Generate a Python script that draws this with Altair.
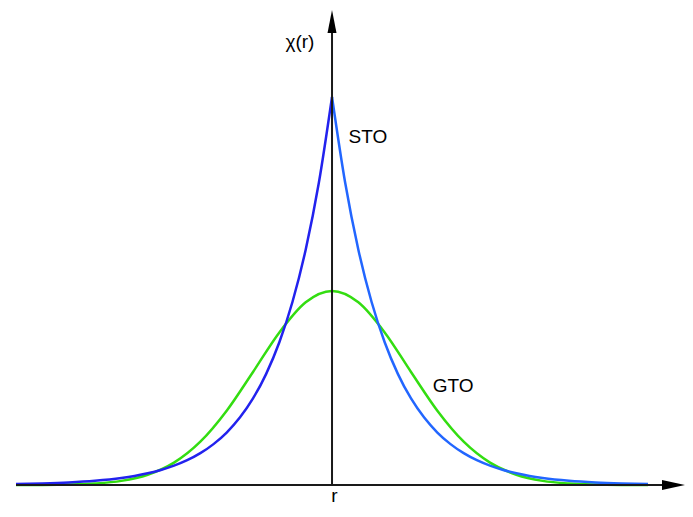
import altair as alt
import pandas as pd

# ---- data ----
sto_left_r = [-6.0, -5.5, -5.0, -4.5, -4.0, -3.75, -3.5, -3.25, -3.0, -2.75, -2.5, -2.25,
              -2.0, -1.75, -1.5, -1.25, -1.0, -0.75, -0.5, -0.25, 0.0]
sto_left_v = [0.0025, 0.0041, 0.0067, 0.0111, 0.0183, 0.0235, 0.0302, 0.0388, 0.0498, 0.0639,
              0.0821, 0.1054, 0.1353, 0.1738, 0.2231, 0.2865, 0.3679, 0.4724, 0.6065, 0.7788, 1.0]
sto_right_r = [0.0, 0.25, 0.5, 0.75, 1.0, 1.25, 1.5, 1.75, 2.0, 2.25, 2.5, 2.75, 3.0, 3.25,
               3.5, 3.75, 4.0, 4.5, 5.0, 5.5, 6.0]
sto_right_v = [1.0, 0.7788, 0.6065, 0.4724, 0.3679, 0.2865, 0.2231, 0.1738, 0.1353, 0.1054,
               0.0821, 0.0639, 0.0498, 0.0388, 0.0302, 0.0235, 0.0183, 0.0111, 0.0067, 0.0041, 0.0025]
gto_r = [-6.0, -5.5, -5.0, -4.5, -4.0, -3.5, -3.0, -2.5, -2.0, -1.5, -1.0, -0.5, 0.0,
         0.5, 1.0, 1.5, 2.0, 2.5, 3.0, 3.5, 4.0, 4.5, 5.0, 5.5, 6.0]
gto_v = [0.0001, 0.0003, 0.0012, 0.0039, 0.0107, 0.0264, 0.0576, 0.1116, 0.1915, 0.2914,
         0.3933, 0.4709, 0.5, 0.4709, 0.3933, 0.2914, 0.1915, 0.1116, 0.0576, 0.0264,
         0.0107, 0.0039, 0.0012, 0.0003, 0.0001]

series_names = ["GTO", "STO left", "STO right"]
series_colors = ["#33dd11", "#2222ee", "#2266ff"]

labels_text = ["χ(r)", "STO", "GTO"]
labels_r = [-0.61, 0.68, 2.30]
labels_v = [1.142, 0.898, 0.254]

# ---- build table ----
rows = []
for r, v in zip(gto_r, gto_v):
    rows.append({"r": r, "v": v, "part": "GTO"})
for r, v in zip(sto_left_r, sto_left_v):
    rows.append({"r": r, "v": v, "part": "STO left"})
for r, v in zip(sto_right_r, sto_right_v):
    rows.append({"r": r, "v": v, "part": "STO right"})
curves = pd.DataFrame(rows)

X_DOM = [-6.152, 6.702]
Y_DOM = [-0.0515, 1.2294]
xs = alt.Scale(domain=X_DOM, nice=False, zero=False)
ys = alt.Scale(domain=Y_DOM, nice=False, zero=False)

lines = alt.Chart(curves).mark_line(strokeWidth=2.5, interpolate="monotone").encode(
    x=alt.X("r:Q", scale=xs, axis=None),
    y=alt.Y("v:Q", scale=ys, axis=None),
    color=alt.Color("part:N", scale=alt.Scale(domain=series_names, range=series_colors), legend=None),
)

haxis = alt.Chart(pd.DataFrame({"x1": [-6.0], "x2": [6.45], "y": [0.0]})).mark_rule(
    color="#1a1a1a", strokeWidth=2
).encode(x=alt.X("x1:Q", scale=xs, axis=None), x2="x2:Q", y=alt.Y("y:Q", scale=ys, axis=None))

vaxis = alt.Chart(pd.DataFrame({"x": [0.0], "y1": [0.0], "y2": [1.19]})).mark_rule(
    color="#1a1a1a", strokeWidth=2
).encode(x=alt.X("x:Q", scale=xs, axis=None), y=alt.Y("y1:Q", scale=ys, axis=None), y2="y2:Q")

up_arrow = alt.Chart(pd.DataFrame({"x": [0.0], "y": [1.1946]})).mark_point(
    shape="M0,-1L0.39,1L-0.39,1Z", size=529, filled=True, color="#000000", opacity=1, strokeWidth=0
).encode(x=alt.X("x:Q", scale=xs, axis=None), y=alt.Y("y:Q", scale=ys, axis=None))

right_arrow = alt.Chart(pd.DataFrame({"x": [6.484], "y": [0.0]})).mark_point(
    shape="M1,0L-1,0.43L-1,-0.43Z", size=529, filled=True, color="#000000", opacity=1, strokeWidth=0
).encode(x=alt.X("x:Q", scale=xs, axis=None), y=alt.Y("y:Q", scale=ys, axis=None))

labels = alt.Chart(pd.DataFrame({"t": labels_text, "x": labels_r, "y": labels_v})).mark_text(
    font="Liberation Sans", fontSize=19, color="#000000", align="center", baseline="middle"
).encode(x=alt.X("x:Q", scale=xs, axis=None), y=alt.Y("y:Q", scale=ys, axis=None), text="t:N")

rlabel = alt.Chart(pd.DataFrame({"t": ["r"], "x": [0.045], "y": [-0.0445]})).mark_text(
    font="Liberation Sans", fontSize=19, color="#000000", align="center", baseline="alphabetic"
).encode(x=alt.X("x:Q", scale=xs, axis=None), y=alt.Y("y:Q", scale=ys, axis=None), text="t:N")

chart = alt.layer(lines, haxis, vaxis, up_arrow, right_arrow, labels, rlabel).properties(
    width=677, height=497, autosize=alt.AutoSizeParams(type="none"), padding=0
).configure_view(strokeWidth=0)

chart.save("out.html", embed_options={"renderer": "svg", "actions": False})
